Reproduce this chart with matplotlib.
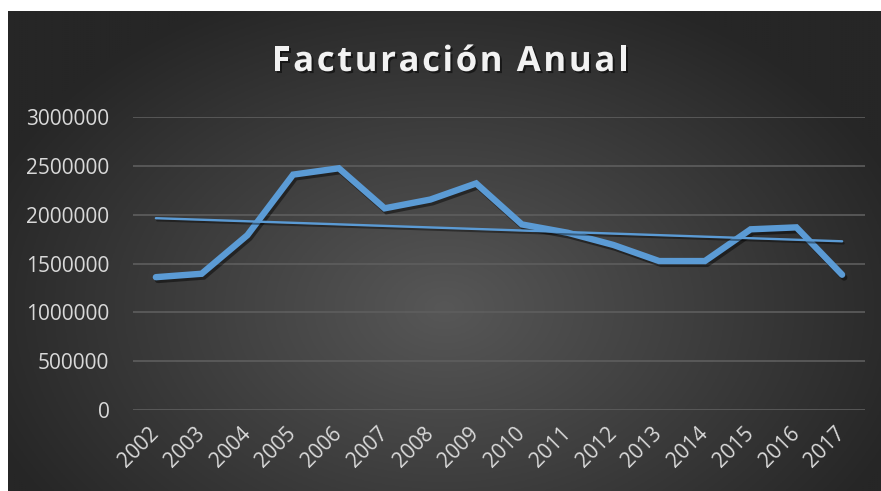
import numpy as np
import matplotlib
matplotlib.use("Agg")
import matplotlib.pyplot as plt
import matplotlib.patheffects as pe

# Data
years = ['2002', '2003', '2004', '2005', '2006', '2007', '2008', '2009',
         '2010', '2011', '2012', '2013', '2014', '2015', '2016', '2017']
facturacion = [1360000, 1395000, 1790000, 2410000, 2475000, 2065000, 2155000, 2320000,
               1900000, 1815000, 1690000, 1525000, 1525000, 1850000, 1870000, 1385000]
yticks = [0, 500000, 1000000, 1500000, 2000000, 2500000, 3000000]
title = 'Facturación Anual'

W, H = 881, 491
fig = plt.figure(figsize=(W / 100, H / 100), dpi=100)
fig.patch.set_facecolor('white')

# radial gradient background of the chart area
bg = fig.add_axes([8 / W, 0, 1 - 8 / W, 1 - 11 / H])
gx, gy = np.meshgrid(np.linspace(0, 1, 400), np.linspace(0, 1, 240))
r = np.sqrt(((gx - 0.5) / 0.75) ** 2 + ((gy - 0.62) / 0.95) ** 2)
r = np.clip(r / 0.75, 0, 1)
inner = np.array([0x57, 0x57, 0x57]) / 255
outer = np.array([0x26, 0x26, 0x26]) / 255
img = inner[None, None, :] * (1 - r[..., None]) + outer[None, None, :] * r[..., None]
bg.imshow(img, extent=[0, 1, 0, 1], aspect='auto', origin='upper')
bg.axis('off')

ax = fig.add_axes([133 / W, 1 - 410 / H, (865 - 133) / W, (410 - 117) / H])
ax.set_facecolor('none')

x = np.arange(len(years))
shadow = [pe.SimpleLineShadow(offset=(1.5, -2), shadow_color='black', alpha=0.45), pe.Normal()]
ax.plot(x, facturacion, color='#5b9bd5', lw=4.6, solid_capstyle='round',
        solid_joinstyle='miter', path_effects=shadow, zorder=3)

# linear trend line
coef = np.polyfit(x, facturacion, 1)
ax.plot(x, np.polyval(coef, x), color='#5b9bd5', lw=1.7, solid_capstyle='round',
        path_effects=[pe.SimpleLineShadow(offset=(1, -1.5), shadow_color='black', alpha=0.4), pe.Normal()],
        zorder=4)

ax.set_xlim(-0.5, len(years) - 0.5)
ax.set_ylim(0, 3000000)
ax.set_yticks(yticks)
ax.set_yticklabels([str(v) for v in yticks])
ax.set_xticks(x)
ax.set_xticklabels(years, rotation=45, ha='right', va='center', rotation_mode='anchor')
ax.grid(axis='y', color='#5e5e5e', lw=1.2)
ax.set_axisbelow(True)
for s in ax.spines.values():
    s.set_visible(False)
ax.tick_params(axis='both', length=0, colors='#d9d9d9', labelsize=15)
ax.tick_params(axis='y', pad=17)
ax.tick_params(axis='x', pad=15)
for lab in ax.get_xticklabels() + ax.get_yticklabels():
    lab.set_fontfamily('Open Sans')

# title with letter spacing
renderer = fig.canvas.get_renderer()
tprops = dict(fontsize=25, fontweight='bold', color='#f2f2f2', family='Open Sans',
              va='baseline', ha='left')
spacing = 2.6
widths = []
for ch in title:
    if ch == ' ':
        widths.append(9)
        continue
    t = fig.text(0, 0, ch, **tprops)
    widths.append(t.get_window_extent(renderer).width)
    t.remove()
total = sum(widths) + spacing * (len(title) - 1)
xpos = 450 - total / 2
for ch, w in zip(title, widths):
    if ch != ' ':
        fig.text(xpos / W, 1 - 71 / H, ch,
                 path_effects=[pe.withSimplePatchShadow(offset=(1.5, -1.5), shadow_rgbFace='black', alpha=0.5)],
                 **tprops)
    xpos += w + spacing

fig.savefig('out.png', dpi=100, facecolor=fig.get_facecolor())
